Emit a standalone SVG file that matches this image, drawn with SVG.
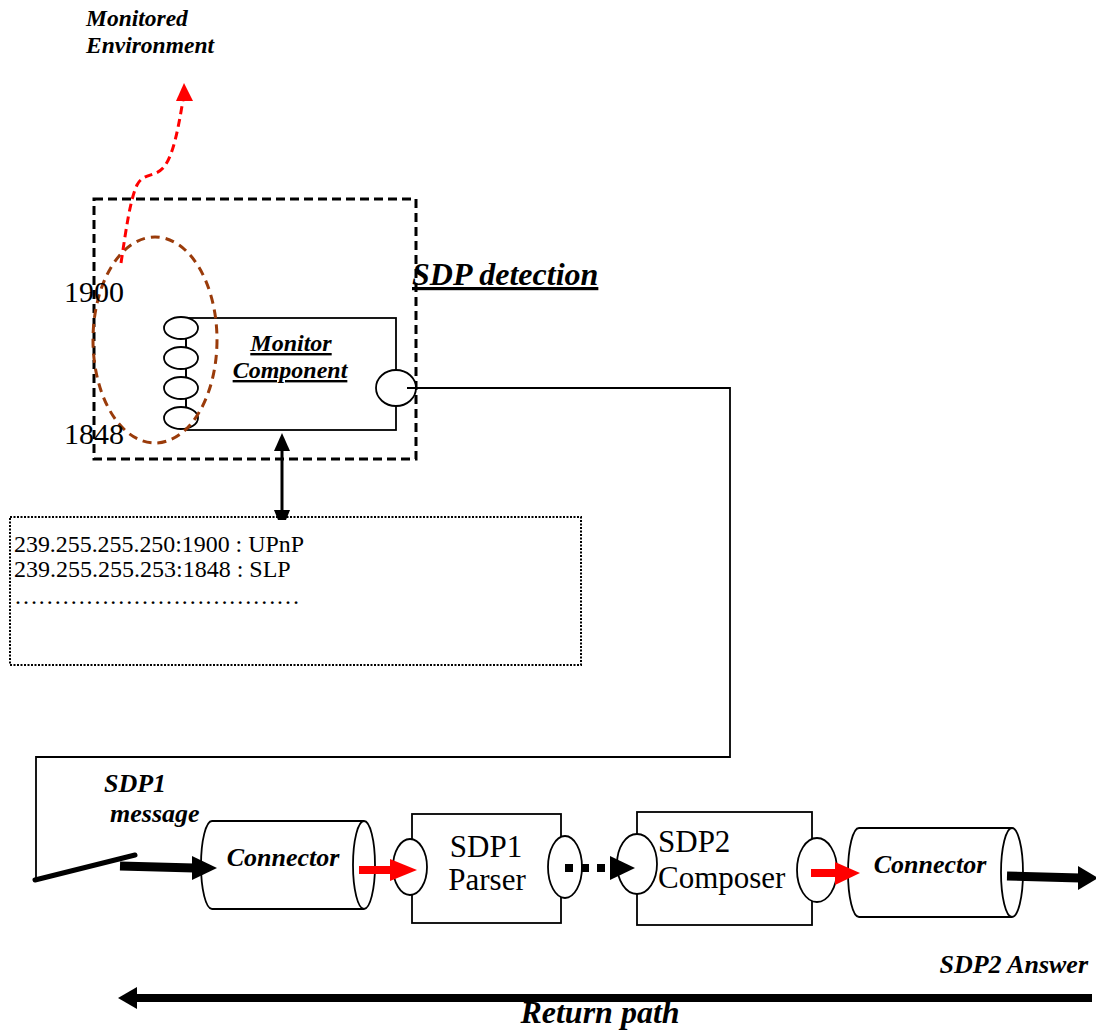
<svg xmlns="http://www.w3.org/2000/svg" width="1096" height="1032" viewBox="0 0 1096 1032">
<style>
.bi{font-family:"Liberation Serif","Times New Roman",serif;font-weight:bold;font-style:italic;fill:#000}
.rg{font-family:"Liberation Serif","Times New Roman",serif;fill:#000}
.ln{fill:none;stroke:#000;stroke-width:1.8}
.wf{fill:#fff;stroke:#000;stroke-width:1.8}
</style>
<rect width="1096" height="1032" fill="#fff"/>

<text class="bi" x="86" y="26" font-size="23.5">Monitored</text>
<text class="bi" x="86" y="53" font-size="23.5">Environment</text>

<g id="sdp-detection">
  <rect x="94" y="199" width="322" height="260" fill="none" stroke="#000" stroke-width="3" stroke-dasharray="9,5"/>
  <text class="bi" x="412" y="285" font-size="32" text-decoration="underline">SDP detection</text>
</g>

<g id="monitor-component">
  <rect class="wf" x="186" y="318" width="210" height="112"/>
  <line class="ln" x1="186" y1="328" x2="186" y2="418"/>
  <ellipse class="wf" cx="181" cy="328" rx="17" ry="11"/>
  <ellipse class="wf" cx="181" cy="358" rx="17" ry="11"/>
  <ellipse class="wf" cx="181" cy="388" rx="17" ry="11"/>
  <ellipse class="wf" cx="181" cy="418" rx="17" ry="11"/>
  <ellipse class="wf" cx="396" cy="388" rx="20" ry="18"/>
  <text class="bi" x="291" y="351" font-size="24" text-anchor="middle" text-decoration="underline">Monitor</text>
  <text class="bi" x="290" y="378" font-size="24" text-anchor="middle" text-decoration="underline">Component</text>
</g>

<g id="ports-ellipse">
  <ellipse cx="155" cy="340" rx="62" ry="103" fill="none" stroke="#9a3b0a" stroke-width="3" stroke-dasharray="9,6"/>
  <text class="rg" x="64" y="302" font-size="30">1900</text>
  <text class="rg" x="64" y="444" font-size="30">1848</text>
</g>

<g id="address-table">
  <rect x="10" y="517" width="571" height="148" fill="none" stroke="#000" stroke-width="2" stroke-dasharray="2,1.5"/>
  <text class="rg" x="14" y="552" font-size="24" textLength="290" lengthAdjust="spacingAndGlyphs">239.255.255.250:1900 : UPnP</text>
  <text class="rg" x="14" y="577" font-size="24">239.255.255.253:1848 : SLP</text>
  <text class="rg" x="14" y="604" font-size="24" textLength="286" lengthAdjust="spacing">………………………………</text>
</g>

<g id="connector1">
  <path class="ln" d="M212,821 H364 M212,909 H364 M212,821 A11,44 0 0 0 212,909"/>
  <ellipse class="wf" cx="364" cy="865" rx="11" ry="44"/>
  <text class="bi" x="283" y="866" font-size="26" text-anchor="middle">Connector</text>
</g>

<g id="sdp1-parser">
  <rect class="wf" x="412" y="814" width="149" height="109"/>
  <ellipse class="wf" cx="410" cy="867" rx="17" ry="28"/>
  <ellipse class="wf" cx="565" cy="867" rx="17" ry="31"/>
  <text class="rg" x="486" y="857" font-size="31" text-anchor="middle">SDP1</text>
  <text class="rg" x="487" y="890" font-size="31" text-anchor="middle">Parser</text>
</g>

<g id="sdp2-composer">
  <rect class="wf" x="637" y="812" width="175" height="113"/>
  <ellipse class="wf" cx="637" cy="864" rx="20" ry="30"/>
  <ellipse class="wf" cx="817" cy="870" rx="20" ry="32"/>
  <text class="rg" x="658" y="852" font-size="31">SDP2</text>
  <text class="rg" x="658" y="888" font-size="31">Composer</text>
</g>

<g id="connector2">
  <path class="ln" d="M859,828 H1012 M859,917 H1012 M859,828 A11,44.5 0 0 0 859,917"/>
  <ellipse class="wf" cx="1012" cy="872.5" rx="11" ry="44.5"/>
  <text class="bi" x="930" y="873" font-size="26" text-anchor="middle">Connector</text>
</g>

<g id="labels">
  <text class="bi" x="104" y="792" font-size="26">SDP1</text>
  <text class="bi" x="110" y="822" font-size="26">message</text>
  <text class="bi" x="1088" y="973" font-size="26" text-anchor="end">SDP2 Answer</text>
  <text class="bi" x="600" y="1023" font-size="32" text-anchor="middle">Return path</text>
</g>

<g id="connectors">
  <path d="M121,263 C126,230 130,200 137,185 C143,173 155,177 163,168 C173,157 178,130 183,100" fill="none" stroke="#f00" stroke-width="3" stroke-dasharray="8,5"/>
  <polygon points="184,83 176,101 193,101" fill="#f00"/>

  <path class="ln" d="M407,388 H730 V757 H36 V880"/>
  <line x1="35" y1="880" x2="135" y2="855" stroke="#000" stroke-width="5" stroke-linecap="round"/>

  <line x1="282" y1="448" x2="282" y2="512" stroke="#000" stroke-width="3"/>
  <polygon points="282,433 274,451 290,451" fill="#000"/>
  <polygon points="274,510 290,510 286,520 278,520" fill="#000"/>

  <line x1="120" y1="866" x2="194" y2="868" stroke="#000" stroke-width="9"/>
  <polygon points="192,856 217,868 192,880" fill="#000"/>

  <line x1="359" y1="870" x2="392" y2="870" stroke="#f00" stroke-width="8"/>
  <polygon points="390,859 417,870 390,881" fill="#f00"/>

  <line x1="565" y1="868" x2="605" y2="868" stroke="#000" stroke-width="8" stroke-dasharray="8,8"/>
  <polygon points="610,856 635,868 610,880" fill="#000"/>

  <line x1="811" y1="873" x2="837" y2="873" stroke="#f00" stroke-width="8"/>
  <polygon points="835,862 860,873 835,885" fill="#f00"/>

  <line x1="1007" y1="876" x2="1080" y2="878" stroke="#000" stroke-width="9"/>
  <polygon points="1078,866 1098,878 1078,890" fill="#000"/>

  <line x1="1092" y1="998" x2="134" y2="998" stroke="#000" stroke-width="8"/>
  <polygon points="118,998 137,987 137,1009" fill="#000"/>
</g>
</svg>
